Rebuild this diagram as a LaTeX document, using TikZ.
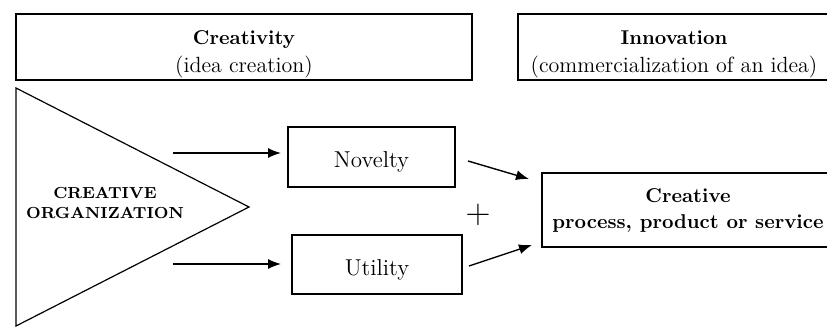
\documentclass[tikz,border=0pt]{standalone}
\usepackage{tikz}
\usetikzlibrary{arrows.meta, positioning, calc}

\begin{document}
\begin{tikzpicture}[>={Latex[length=6.5pt, width=5pt]}, x=0.5pt, y=-0.5pt,
        box/.style={draw, line width=1pt, inner sep=0pt, align=center, font=\fontsize{11}{14}\selectfont},
        head/.style={box, minimum height=33pt},
        link/.style={->, line width=0.7pt}]
        \useasboundingbox (0,0) rectangle (827,327);
        % Header boxes
        \node[head, minimum width=228pt] (creat) at (244,47) {};
        \node[align=center, font=\fontsize{11}{14}\selectfont] (creattext) at ([yshift=-3.5pt]creat.center)
            {{\bfseries\fontsize{10}{14}\selectfont Creativity}\\(idea creation)};
        \node[head, minimum width=156pt] (innov) at (674,47) {};
        \node[align=center, font=\fontsize{11}{14}\selectfont] (innovtext) at ([yshift=-3.5pt]innov.center)
            {{\bfseries\fontsize{10}{14}\selectfont Innovation}\\(commercialization of an idea)};
        % Organization triangle
        \draw[line width=0.6pt] (16,88) -- (249,207) -- (16,326) -- cycle;
        \node[align=center, font=\bfseries\fontsize{8}{10}\selectfont] (org) at (105,203) {CREATIVE\\ORGANIZATION};
        \coordinate (o1) at (173,153);
        \coordinate (o2) at (173,264);
        % Novelty + Utility
        \node[box, minimum width=83.5pt, minimum height=30pt, font=\fontsize{11.5}{13}\selectfont,
            text height=12.8pt, text depth=2.2pt] (nov) at (371.5,157) {Novelty};
        \node[box, minimum width=85pt, minimum height=29.5pt, font=\fontsize{11.5}{13}\selectfont,
            text height=12.8pt, text depth=2.2pt] (util) at (377,264.5) {Utility};
        \node[font=\fontsize{17}{17}\selectfont] (plus) at (478,215) {$+$};
        % Outcome box
        \node[box, minimum width=146pt, minimum height=37pt, font=\bfseries\fontsize{10}{13}\selectfont] (cre) at (688,210)
            {Creative\\process, product or service};
        % Arrows
        \draw[link, shorten >=3pt] (o1) -- (o1 -| nov.west);
        \draw[link, shorten >=5pt] (o2) -- (o2 -| util.west);
        \draw[link] ([shift={(12,4)}]nov.east) -- ([shift={(-12,-31)}]cre.west);
        \draw[link] ([shift={(6,1.5)}]util.east) -- ([shift={(-9,35)}]cre.west);
    \end{tikzpicture}
\end{document}
